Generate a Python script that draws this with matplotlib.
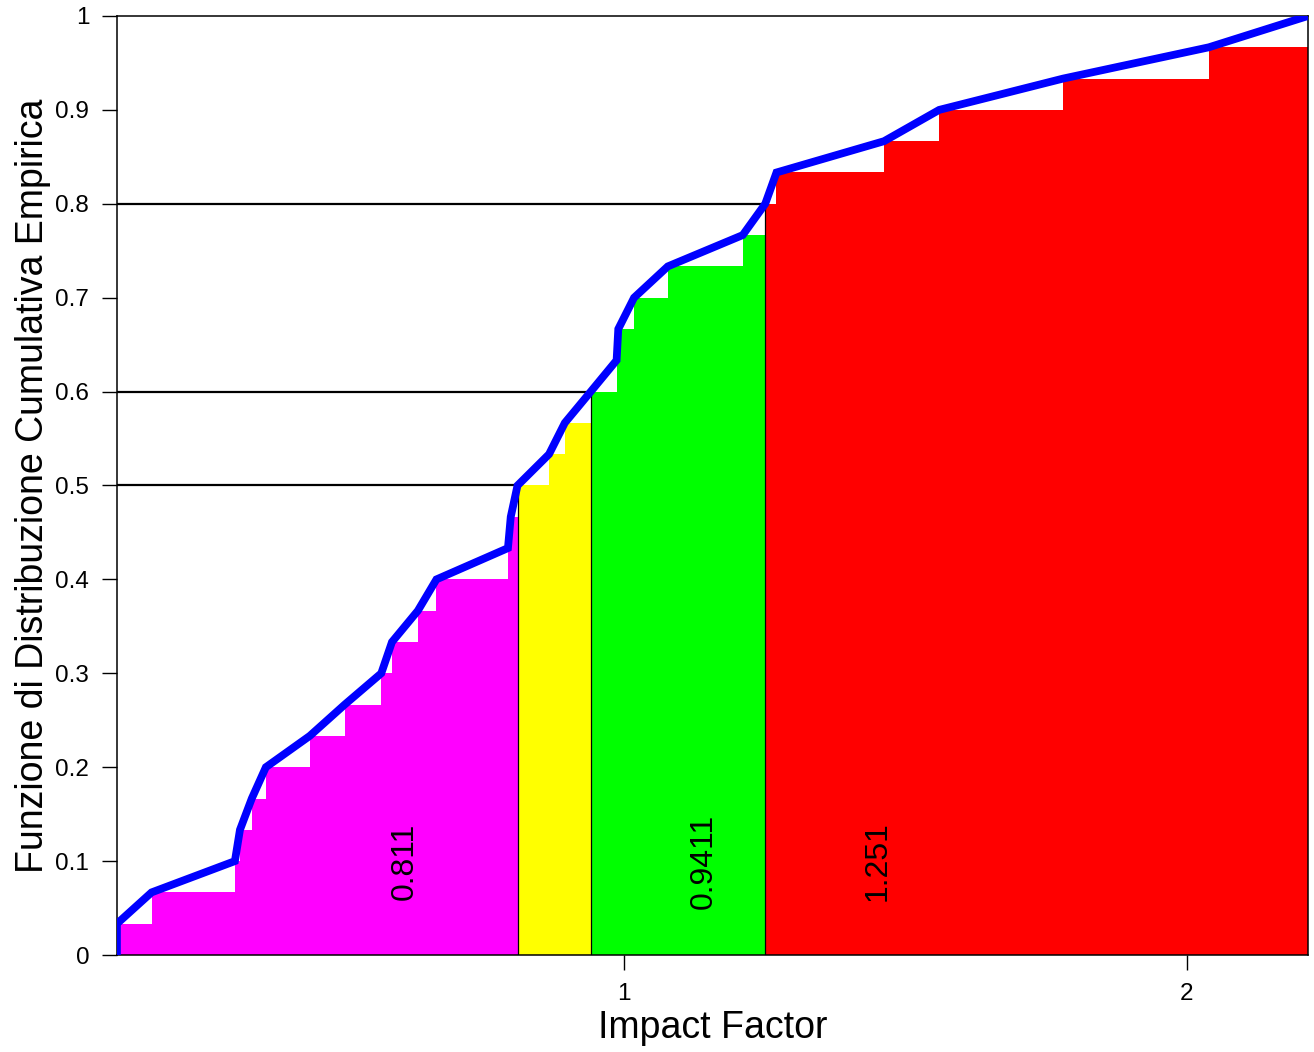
import numpy as np
import matplotlib.pyplot as plt

# impact factor values (sorted), 30 journals
impact = [0.0995, 0.161, 0.309, 0.318, 0.339, 0.364, 0.442, 0.504, 0.569, 0.588,
          0.634, 0.667, 0.794, 0.799, 0.811, 0.867, 0.895, 0.9411, 0.987, 0.990,
          1.018, 1.078, 1.211, 1.251, 1.271, 1.462, 1.560, 1.780, 2.039, 2.215]

# quantile levels and their values
levels = [0.5, 0.6, 0.8]
quantiles = [0.811, 0.9411, 1.251]
qlabels = ["0.811", "0.9411", "1.251"]
region_colors = ["#ff00ff", "#ffff00", "#00ff00", "#ff0000"]


def region_color(x):
    for q, c in zip(quantiles, region_colors):
        if x < q:
            return c
    return region_colors[-1]


def main():
    plt.rcParams['font.family'] = ['Liberation Sans', 'DejaVu Sans']

    x = np.array(impact)
    n = len(x)
    F = np.arange(1, n + 1) / n

    fig = plt.figure(figsize=(13.14, 10.52), dpi=100)
    ax = fig.add_axes([0.089, 0.0922, 0.9064, 0.8926])

    # step bars of the ecdf, coloured by quantile region
    for i in range(n - 1):
        ax.bar(x[i], F[i], width=x[i + 1] - x[i], align='edge',
               color=region_color(x[i]), linewidth=0, zorder=1)

    # quantile guide lines
    for lev, q in zip(levels, quantiles):
        ax.plot([x[0], q], [lev, lev], color='black', lw=1.6, zorder=2)
        ax.plot([q, q], [0, lev], color='black', lw=0.9, zorder=2)

    # labels of the quantile values
    offsets = [-0.2, 0.2, 0.2]
    for q, lab, off in zip(quantiles, qlabels, offsets):
        ax.text(q + off, 0.1, lab, rotation=90, ha='center', va='center',
                fontsize=23, zorder=3)

    # ecdf polyline
    ax.plot(np.r_[x[0], x], np.r_[0, F], color='#0000ff', lw=5.6,
            solid_joinstyle='miter', zorder=4)

    ax.set_xlim(x[0], x[-1])
    ax.set_ylim(0, 1)
    ax.set_xticks([1, 2])
    ax.set_xticklabels(["1", "2"])
    yt = np.round(np.arange(0, 1.01, 0.1), 1)
    ax.set_yticks(yt)
    ax.set_yticklabels(["%g" % v for v in yt])
    ax.tick_params(labelsize=17.5, length=11, width=1, direction='out', pad=9)
    for s in ax.spines.values():
        s.set_linewidth(1.1)

    ax.set_xlabel("Impact Factor", fontsize=27, labelpad=4)
    ax.set_ylabel("Funzione di Distribuzione Cumulativa Empirica", fontsize=27, labelpad=3)

    fig.savefig("out.png", dpi=100)


if(__name__ == '__main__'):
    main()
